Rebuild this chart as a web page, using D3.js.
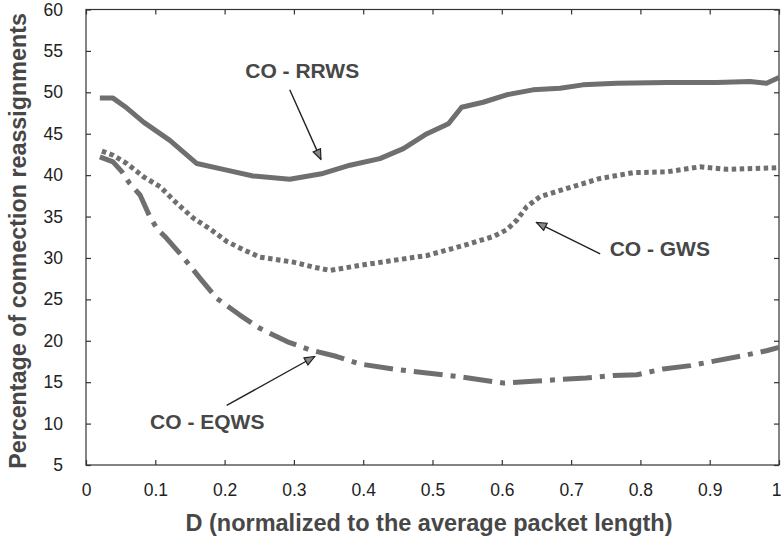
<!DOCTYPE html>
<html>
<head>
<meta charset="utf-8">
<script src="https://cdn.jsdelivr.net/npm/d3@7"></script>
<style>
  html, body { margin: 0; padding: 0; background: #fff; }
  svg { display: block; font-family: "Liberation Sans", Arial, Helvetica, sans-serif; }
</style>
</head>
<body>
<svg id="chart" width="781" height="540"></svg>
<script>
// Valeurs
const xTicks = [0, 0.1, 0.2, 0.3, 0.4, 0.5, 0.6, 0.7, 0.8, 0.9, 1]
const yTicks = [5, 10, 15, 20, 25, 30, 35, 40, 45, 50, 55, 60]

// CO - RRWS (trait plein)
const rrwsX = [0.020, 0.039, 0.059, 0.083, 0.121, 0.160, 0.203, 0.241, 0.294, 0.342, 0.381, 0.424, 0.458, 0.492, 0.523, 0.542, 0.573, 0.607, 0.645, 0.684, 0.717, 0.766, 0.838, 0.910, 0.958, 0.982, 1.0]
const rrwsY = [49.3, 49.3, 48.1, 46.4, 44.2, 41.4, 40.6, 39.9, 39.5, 40.2, 41.2, 42.0, 43.2, 45.0, 46.2, 48.2, 48.8, 49.7, 50.3, 50.5, 50.9, 51.1, 51.2, 51.2, 51.3, 51.1, 51.8]

// CO - GWS (pointillé carré)
const gwsX = [0.023, 0.039, 0.059, 0.083, 0.107, 0.131, 0.155, 0.179, 0.203, 0.227, 0.251, 0.299, 0.328, 0.352, 0.395, 0.443, 0.492, 0.549, 0.588, 0.607, 0.622, 0.636, 0.655, 0.694, 0.742, 0.790, 0.838, 0.886, 0.925, 1.0]
const gwsY = [42.9, 42.4, 41.4, 39.8, 38.6, 36.6, 34.8, 33.5, 32.0, 31.0, 30.1, 29.5, 28.9, 28.5, 29.1, 29.7, 30.3, 31.6, 32.6, 33.4, 34.6, 36.2, 37.4, 38.4, 39.6, 40.3, 40.4, 41.0, 40.7, 40.9]

// CO - EQWS (tiret-point)
const eqwsX = [0.020, 0.039, 0.052, 0.063, 0.078, 0.092, 0.102, 0.116, 0.140, 0.165, 0.189, 0.222, 0.251, 0.290, 0.323, 0.362, 0.395, 0.443, 0.492, 0.535, 0.569, 0.602, 0.645, 0.679, 0.722, 0.761, 0.795, 0.833, 0.872, 0.910, 0.948, 0.982, 1.0]
const eqwsY = [42.2, 41.6, 40.4, 39.0, 37.6, 35.0, 33.6, 32.4, 30.1, 27.5, 25.1, 23.1, 21.5, 19.9, 18.9, 18.1, 17.2, 16.6, 16.1, 15.7, 15.3, 14.9, 15.1, 15.3, 15.5, 15.8, 15.9, 16.6, 17.0, 17.6, 18.2, 18.8, 19.2]

// Étiquettes + flèches (en unités de données)
const labelNames = ['CO - RRWS', 'CO - GWS', 'CO - EQWS']
const labelPos = [[0.312, 51.7], [0.828, 30.2], [0.175, 9.4]]
const arrowFrom = [[0.294, 50.3], [0.742, 30.5], [0.203, 12.2]]
const arrowTo = [[0.339, 41.9], [0.650, 34.3], [0.330, 18.1]]

const svg = d3.select('#chart')

const x = d3.scaleLinear().domain([0, 1]).range([86, 779])
const y = d3.scaleLinear().domain([5, 60]).range([465, 9.5])

const lineColor = '#6f6f6f'
const textColor = '#474747'

// --- cadre ---
svg.append('rect')
    .attr('x', x(0)).attr('y', y(60))
    .attr('width', x(1) - x(0)).attr('height', y(5) - y(60))
    .attr('fill', 'none').attr('stroke', '#333').attr('stroke-width', 1.2)

// --- axes (ticks vers l'intérieur) ---
const fmt = d3.format('~g')
const styleAxis = g => {
    g.attr('font-size', 17.5).attr('font-family', '"Liberation Sans", Arial, sans-serif')
    g.select('.domain').remove()
    g.selectAll('.tick line').attr('stroke', '#333').attr('stroke-width', 1.2)
    g.selectAll('.tick text').attr('fill', '#222')
}

svg.append('g').attr('transform', `translate(0,${y(5)})`)
    .call(d3.axisBottom(x).tickValues(xTicks).tickFormat(fmt).tickSizeInner(-5).tickSizeOuter(0).tickPadding(19))
    .call(styleAxis)
    .call(g => g.selectAll('.tick text').filter(d => d === 1).attr('text-anchor', 'end').attr('dx', 2))
svg.append('g').attr('transform', `translate(0,${y(60)})`)
    .call(d3.axisTop(x).tickValues(xTicks).tickFormat('').tickSizeInner(-5).tickSizeOuter(0))
    .call(styleAxis)
svg.append('g').attr('transform', `translate(${x(0)},0)`)
    .call(d3.axisLeft(y).tickValues(yTicks).tickFormat(fmt).tickSizeInner(-5).tickSizeOuter(0).tickPadding(23))
    .call(styleAxis)
svg.append('g').attr('transform', `translate(${x(1)},0)`)
    .call(d3.axisRight(y).tickValues(yTicks).tickFormat('').tickSizeInner(-5).tickSizeOuter(0))
    .call(styleAxis)

// --- titres d'axes ---
svg.append('text')
    .attr('x', 429).attr('y', 531)
    .attr('text-anchor', 'middle')
    .attr('font-size', 23.5).attr('font-weight', 'bold').attr('fill', textColor)
    .text('D (normalized to the average packet length)')

svg.append('text')
    .attr('transform', 'translate(26,241) rotate(-90)')
    .attr('text-anchor', 'middle')
    .attr('font-size', 23.3).attr('font-weight', 'bold').attr('fill', textColor)
    .text('Percentage of connection reassignments')

// --- courbes ---
const series = [
    { xs: rrwsX, ys: rrwsY, dash: null },
    { xs: gwsX, ys: gwsY, dash: '4.5,3.5' },
    { xs: eqwsX, ys: eqwsY, dash: '29,8,5,8' },
]

const line = d3.line().x(d => x(d[0])).y(d => y(d[1]))

series.forEach(s => {
    const pts = s.xs.map((v, i) => [v, s.ys[i]])
    svg.append('path')
        .attr('d', line(pts))
        .attr('fill', 'none')
        .attr('stroke', lineColor)
        .attr('stroke-width', 5)
        .attr('stroke-linejoin', 'round')
        .attr('stroke-dasharray', s.dash)
})

// --- flèches ---
svg.append('defs').append('marker')
    .attr('id', 'head')
    .attr('viewBox', '0 0 12 10')
    .attr('refX', 11).attr('refY', 5)
    .attr('markerWidth', 12).attr('markerHeight', 10)
    .attr('markerUnits', 'userSpaceOnUse')
    .attr('orient', 'auto')
    .append('path')
    .attr('d', 'M1,1 L11,5 L1,9 Z')
    .attr('fill', '#888').attr('stroke', '#222').attr('stroke-width', 1.2)

labelNames.forEach((name, i) => {
    svg.append('line')
        .attr('x1', x(arrowFrom[i][0])).attr('y1', y(arrowFrom[i][1]))
        .attr('x2', x(arrowTo[i][0])).attr('y2', y(arrowTo[i][1]))
        .attr('stroke', '#222').attr('stroke-width', 1.4)
        .attr('marker-end', 'url(#head)')

    svg.append('text')
        .attr('x', x(labelPos[i][0])).attr('y', y(labelPos[i][1]))
        .attr('text-anchor', 'middle')
        .attr('font-size', 21).attr('font-weight', 'bold').attr('fill', textColor)
        .text(name)
})
</script>
</body>
</html>
